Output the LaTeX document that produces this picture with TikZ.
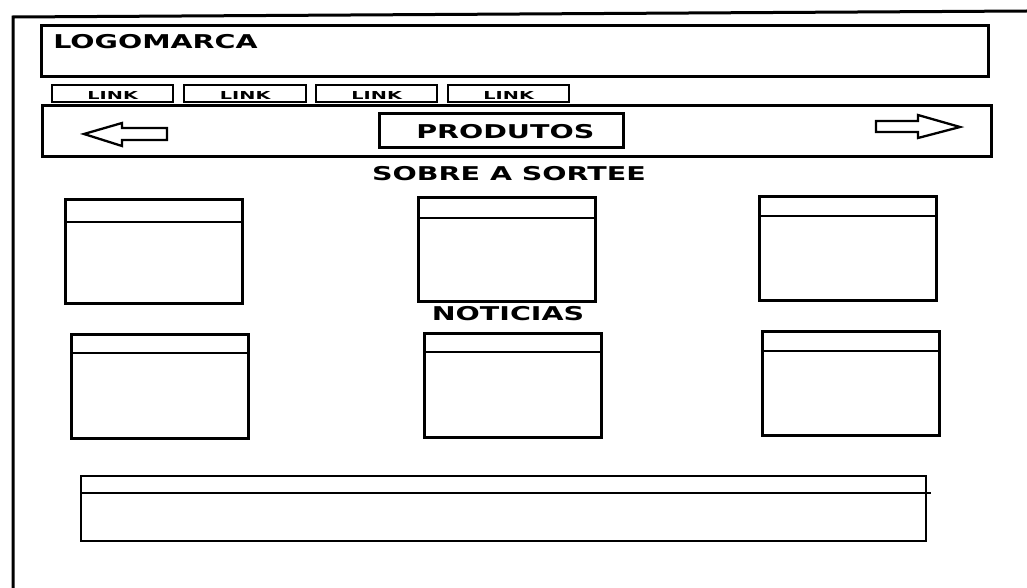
\documentclass[tikz,border=0pt]{standalone}
\usepackage{fontspec}
\setmainfont{DejaVu Sans}
\usetikzlibrary{calc}

\begin{document}
\begin{tikzpicture}[x=1pt,y=-1pt]
  \tikzstyle{every node}=[inner sep=0pt];
  \tikzstyle{box}=[draw,line width=2.6pt,anchor=north west];
  \tikzstyle{title}=[font=\bfseries\fontsize{19}{19}\selectfont,xscale=1.5];
  \tikzstyle{linktext}=[font=\bfseries\fontsize{11}{11}\selectfont,xscale=1.75];
  \tikzstyle{arrowshape}=[line width=2.3pt,line join=miter];
  \useasboundingbox (0,0) rectangle (1027,588);
  % page border
  \coordinate (pagebottom) at (13,588);
  \coordinate (pagetop) at (13,17);
  \coordinate (pageright) at (1027,11);
  \draw[line width=3pt] (pagebottom) -- (pagetop) -- (pageright);
  % header
  \node[box,minimum width=947pt,minimum height=51pt] (logobox) at (40,24) {};
  \node[title,anchor=base west] (logo) at (53,49) {LOGOMARCA};
  % menu
  \foreach \i/\x/\w in {1/51/121,2/183/122,3/315/121,4/447/121}{
    \node[box,line width=2.4pt,minimum width=\w pt,minimum height=17pt] (link\i) at (\x,84) {};
    \node[linktext,anchor=base] (linklabel\i) at ($(link\i.south)+(0,-4)$) {LINK};
  }
  % products bar
  \node[box,minimum width=949pt,minimum height=51pt] (navbar) at (41,104) {};
  \node[box,minimum width=244pt,minimum height=34pt] (produtos) at (378,112) {};
  \node[title,anchor=base] (produtoslabel) at ($(produtos.center)+(4,8)$) {PRODUTOS};
  \draw[arrowshape] (84,134) -- (122,123) -- (122,128) -- (167,128)
    -- (167,140) -- (122,140) -- (122,146) -- cycle;
  \draw[arrowshape] (960,127) -- (918,115) -- (918,121) -- (876,121)
    -- (876,132) -- (918,132) -- (918,138) -- cycle;
  % sections
  \node[title,anchor=base] (sobre) at (509,180) {SOBRE A SORTEE};
  \node[title,anchor=base] (noticias) at (508,320) {NOTICIAS};
  \foreach \i/\x/\y/\h in {1/64/198/24,2/417/196/22,3/758/195/21,4/70/333/20,5/423/332/20,6/761/330/21}{
    \node[box,minimum width=177pt,minimum height=104pt] (card\i) at (\x,\y) {};
    \draw[line width=1.8pt] ($(card\i.north west)+(0,\h)$) -- ($(card\i.north east)+(0,\h)$);
  }
  % footer
  \node[box,line width=2.2pt,minimum width=845pt,minimum height=65pt] (footer) at (80,475) {};
  \draw[line width=1.8pt] ($(footer.north west)+(0,18)$) -- ($(footer.north east)+(4,18)$);
\end{tikzpicture}
\end{document}
